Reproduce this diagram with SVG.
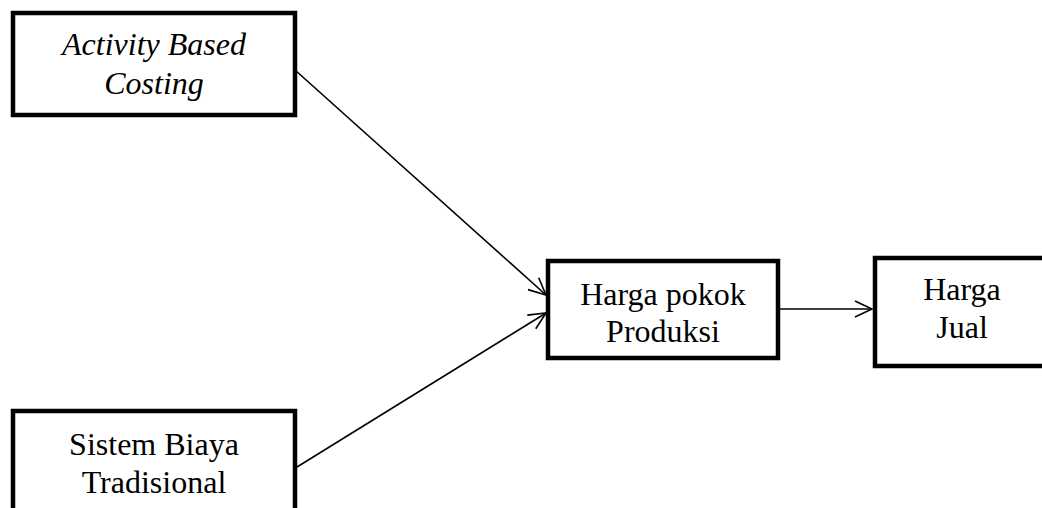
<svg xmlns="http://www.w3.org/2000/svg" width="1042" height="508" viewBox="0 0 1042 508">
<style>
.box{fill:#fff;stroke:#000;stroke-width:4.5}
.t{font-family:"Liberation Serif","Times New Roman",serif;font-size:32px;fill:#000;text-anchor:middle}
.it{font-style:italic}
.c{stroke:#000;stroke-width:1.6;fill:none}
</style>
<defs>
<marker id="arr" markerWidth="22" markerHeight="22" refX="19" refY="11" orient="auto" markerUnits="userSpaceOnUse">
<path d="M2,3 L19,11 L2,19" fill="none" stroke="#000" stroke-width="1.6"/>
</marker>
</defs>
<g id="connectors">
<line class="c" x1="295" y1="70" x2="546" y2="295" marker-end="url(#arr)"/>
<line class="c" x1="297" y1="467" x2="546" y2="313" marker-end="url(#arr)"/>
<line class="c" x1="778" y1="309" x2="872" y2="309" marker-end="url(#arr)"/>
</g>
<g id="abc">
<rect class="box" x="13" y="13" width="282" height="102"/>
<text class="t it" x="154" y="55">Activity Based</text>
<text class="t it" x="154" y="94">Costing</text>
</g>
<g id="sbt">
<rect class="box" x="13" y="411" width="282" height="110"/>
<text class="t" x="154" y="455">Sistem Biaya</text>
<text class="t" x="154" y="493">Tradisional</text>
</g>
<g id="hpp">
<rect class="box" x="548" y="261" width="230" height="97"/>
<text class="t" x="663" y="305">Harga pokok</text>
<text class="t" x="663" y="342">Produksi</text>
</g>
<g id="hj">
<rect class="box" x="875" y="258" width="180" height="108"/>
<text class="t" x="962" y="300">Harga</text>
<text class="t" x="962" y="338">Jual</text>
</g>
</svg>
